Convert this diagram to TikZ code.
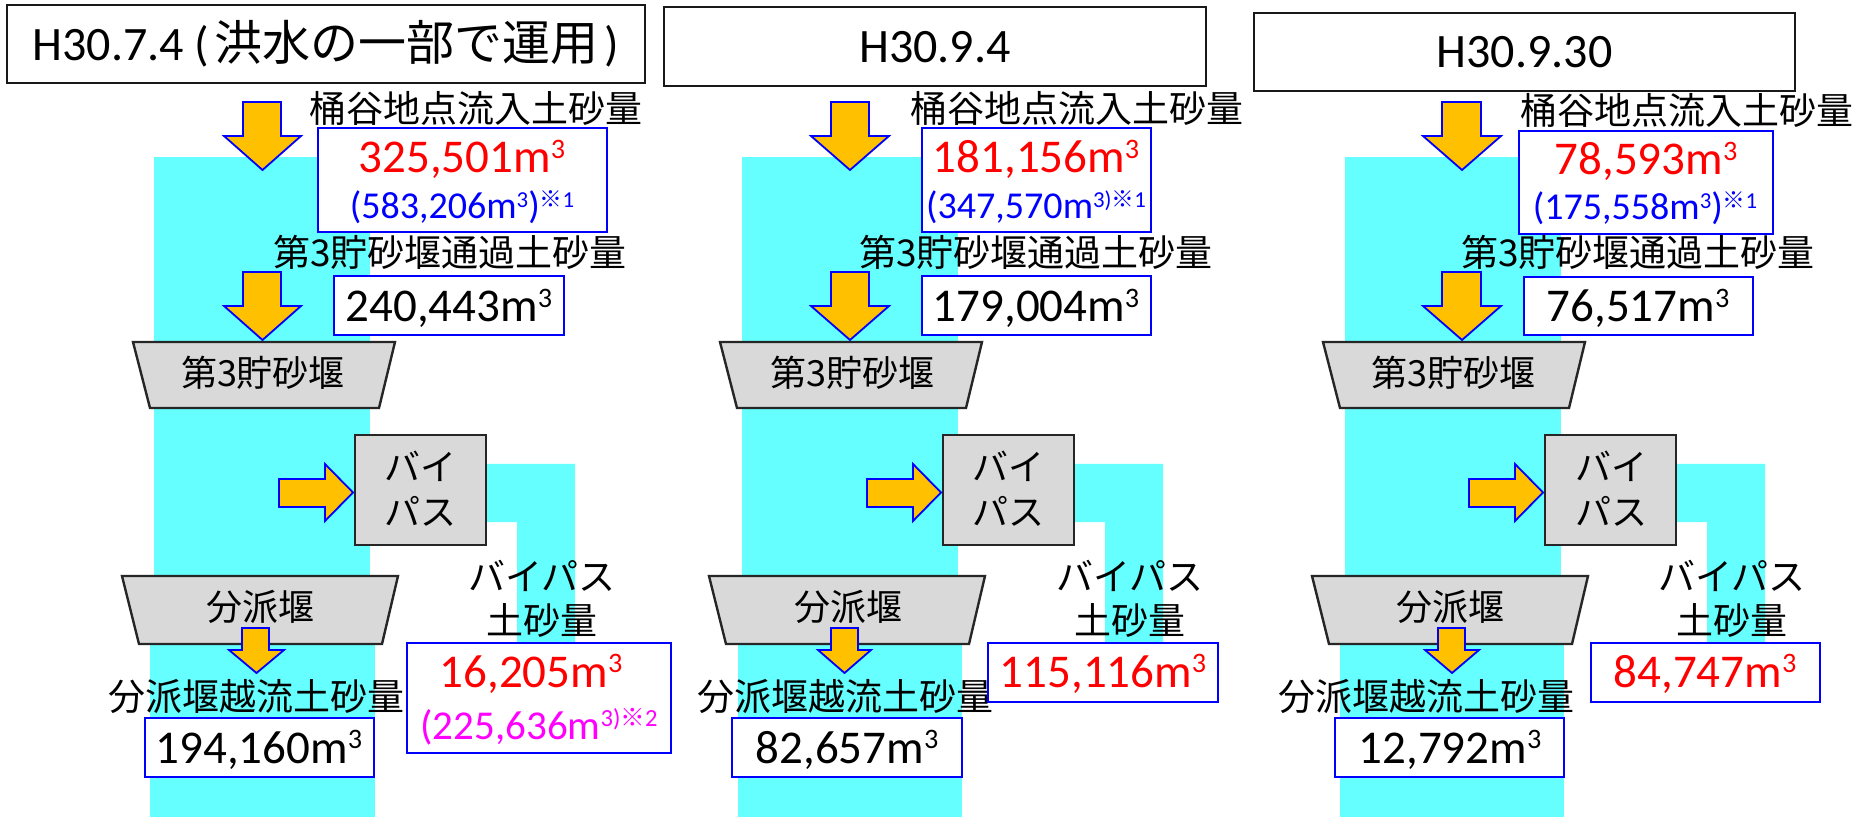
\documentclass[tikz,border=0pt]{standalone}
\usepackage{fontspec}
\usepackage{graphicx}
\setmainfont{Carlito}
\newfontfamily\jp{Noto Sans CJK JP}
\newcommand\msup[1]{\raisebox{0.3em}{\scalebox{0.6}{#1}}}
\newcommand\kome{{\jp ※}}
\definecolor{rivercol}{HTML}{66FFFF}
\definecolor{weircol}{HTML}{D9D9D9}
\definecolor{arrowcol}{HTML}{FFC000}
\definecolor{magentacol}{HTML}{FF00FF}
\newcommand\downarr[7]{%
  \draw[barrow] (#1,#5) -- (#2,#5) -- (#2,#6) -- (#4,#6) -- ({(#3+#4)/2},#7) -- (#3,#6) -- (#1,#6) -- cycle;}
\newcommand\rightarr[3]{%
  \draw[barrow] (#1,479) -- (#2,479) -- (#2,464) -- (#3,492.5) -- (#2,521) -- (#2,507) -- (#1,507) -- cycle;}
\begin{document}
\begin{tikzpicture}[x=0.5pt,y=-0.5pt,
  river/.style={fill=rivercol,draw=none},
  weir/.style={fill=weircol,draw=black!85,line width=1.2pt},
  barrow/.style={fill=arrowcol,draw=blue,line width=0.9pt,line join=miter},
  valbox/.style={fill=white,draw=blue,line width=1.3pt},
  titlebox/.style={fill=white,draw=black!90,line width=1pt},
  lbl/.style={font=\jp\fontsize{18.5}{22}\selectfont,inner sep=0pt,align=center},
  weirtxt/.style={font=\jp\fontsize{18}{22.5}\selectfont,inner sep=0pt,align=center},
  num/.style={font=\fontsize{23.5}{26}\selectfont,anchor=base,inner sep=0pt},
  subnum/.style={font=\fontsize{19}{21}\selectfont,anchor=base,inner sep=0pt},
  subnumm/.style={font=\fontsize{20.5}{22}\selectfont,anchor=base,inner sep=0pt},
  ttl/.style={font=\fontsize{24}{28}\selectfont,anchor=base,inner sep=0pt}]
\useasboundingbox (0,0) rectangle (1867,817);
\fill[white] (0,0) rectangle (1867,817);

% ================= rivers =================
\fill[river] (154,157) rectangle (370,615);
\fill[river] (150,610) rectangle (375,817);
\fill[river] (470,464) -- (575,464) -- (575,642) -- (517,642) -- (517,522) -- (470,522) -- cycle;
\fill[river] (742,157) rectangle (958,615);
\fill[river] (738,610) rectangle (962,817);
\fill[river] (1058,464) -- (1163,464) -- (1163,642) -- (1105,642) -- (1105,522) -- (1058,522) -- cycle;
\fill[river] (1345,157) rectangle (1561,615);
\fill[river] (1340,610) rectangle (1564,817);
\fill[river] (1660,464) -- (1765,464) -- (1765,642) -- (1707,642) -- (1707,522) -- (1660,522) -- cycle;

% ================= panel 1 =================
\draw[titlebox] (7,5) rectangle (645,83);
\node[ttl] (t1) at (326,61) {H30.7.4\hspace{5pt}(\hspace{3pt}{\jp\fontsize{24}{28}\selectfont 洪水の一部で運用}\hspace{3pt})};
\downarr{243}{281}{224}{301}{102}{136}{170}
\downarr{243}{281}{224}{301}{272}{306}{340}
\node[lbl] (l1a) at (476,108) {桶谷地点流入土砂量};
\draw[valbox] (318,128) rectangle (607,232);
\node[num,text=red] (v1a) at (462,173) {325,501m\msup{3}};
\node[subnum,text=blue] (s1a) at (462,219) {(583,206m\msup{3})\msup{\kome1}};
\node[lbl] (l1b) at (450,252) {第3貯砂堰通過土砂量};
\draw[valbox] (334,276) rectangle (564,335);
\node[num] (v1b) at (449,322) {240,443m\msup{3}};
\draw[weir] (133,342) -- (395,342) -- (379,408) -- (150,408) -- cycle;
\node[weirtxt] (w1a) at (263,373) {第3貯砂堰};
\draw[weir] (355,435) rectangle (486,545);
\node[weirtxt] (bp1) at (420,488.5) {バイ\\パス};
\rightarr{279}{325}{353}
\draw[weir] (122,576) -- (398,576) -- (382,644) -- (139,644) -- cycle;
\node[weirtxt] (w1b) at (260,607) {分派堰};
\downarr{242}{269}{229}{284}{628}{650}{673}
\node[lbl] (l1c) at (256,697) {分派堰越流土砂量};
\draw[valbox] (145,718) rectangle (374,777);
\node[num] (v1c) at (259,763) {194,160m\msup{3}};
\node[lbl] (l1d) at (542,599) {バイパス\\土砂量};
\draw[valbox] (407,643) rectangle (671,753);
\node[num,text=red] (v1d) at (531,687) {16,205m\msup{3}};
\node[subnumm,text=magentacol] (s1d) at (539,739) {(225,636m\msup{3)}\msup{\kome2}};

% ================= panel 2 =================
\draw[titlebox] (664,7) rectangle (1206,86);
\node[ttl] (t2) at (935,63) {H30.9.4};
\downarr{831}{869}{811}{889}{102}{136}{170}
\downarr{831}{869}{811}{889}{272}{306}{340}
\node[lbl] (l2a) at (1077,108) {桶谷地点流入土砂量};
\draw[valbox] (922,128) rectangle (1151,232);
\node[num,text=red] (v2a) at (1036,173) {181,156m\msup{3}};
\node[subnum,text=blue] (s2a) at (1036,219) {(347,570m\msup{3)}\msup{\kome1}};
\node[lbl] (l2b) at (1036,252) {第3貯砂堰通過土砂量};
\draw[valbox] (922,276) rectangle (1151,335);
\node[num] (v2b) at (1036,322) {179,004m\msup{3}};
\draw[weir] (720,342) -- (982,342) -- (966,408) -- (737,408) -- cycle;
\node[weirtxt] (w2a) at (852,373) {第3貯砂堰};
\draw[weir] (943,435) rectangle (1074,545);
\node[weirtxt] (bp2) at (1008,488.5) {バイ\\パス};
\rightarr{867}{913}{941}
\draw[weir] (709,576) -- (985,576) -- (969,644) -- (726,644) -- cycle;
\node[weirtxt] (w2b) at (848,607) {分派堰};
\downarr{831}{858}{818}{871}{628}{650}{673}
\node[lbl] (l2c) at (845,697) {分派堰越流土砂量};
\draw[valbox] (732,718) rectangle (962,777);
\node[num] (v2c) at (847,763) {82,657m\msup{3}};
\node[lbl] (l2d) at (1130,599) {バイパス\\土砂量};
\draw[valbox] (988,643) rectangle (1218,702);
\node[num,text=red] (v2d) at (1103,687) {115,116m\msup{3}};

% ================= panel 3 =================
\draw[titlebox] (1254,13) rectangle (1795,91);
\node[ttl] (t3) at (1524.5,68) {H30.9.30};
\downarr{1442}{1481}{1423}{1501}{102}{136}{170}
\downarr{1442}{1481}{1423}{1501}{272}{306}{340}
\node[lbl] (l3a) at (1687,110) {桶谷地点流入土砂量};
\draw[valbox] (1519,131) rectangle (1773,234);
\node[num,text=red] (v3a) at (1646,175) {78,593m\msup{3}};
\node[subnum,text=blue] (s3a) at (1645,220) {(175,558m\msup{3})\msup{\kome1}};
\node[lbl] (l3b) at (1638,252) {第3貯砂堰通過土砂量};
\draw[valbox] (1524,277) rectangle (1753,335);
\node[num] (v3b) at (1638,322) {76,517m\msup{3}};
\draw[weir] (1323,342) -- (1585,342) -- (1569,408) -- (1340,408) -- cycle;
\node[weirtxt] (w3a) at (1453,373) {第3貯砂堰};
\draw[weir] (1545,435) rectangle (1676,545);
\node[weirtxt] (bp3) at (1611,488.5) {バイ\\パス};
\rightarr{1469}{1515}{1543}
\draw[weir] (1312,576) -- (1588,576) -- (1572,644) -- (1329,644) -- cycle;
\node[weirtxt] (w3b) at (1450,607) {分派堰};
\downarr{1438}{1465}{1425}{1479}{628}{650}{673}
\node[lbl] (l3c) at (1426,697) {分派堰越流土砂量};
\draw[valbox] (1335,718) rectangle (1564,777);
\node[num] (v3c) at (1450,763) {12,792m\msup{3}};
\node[lbl] (l3d) at (1732,599) {バイパス\\土砂量};
\draw[valbox] (1591,643) rectangle (1820,702);
\node[num,text=red] (v3d) at (1705,687) {84,747m\msup{3}};
\end{tikzpicture}
\end{document}
